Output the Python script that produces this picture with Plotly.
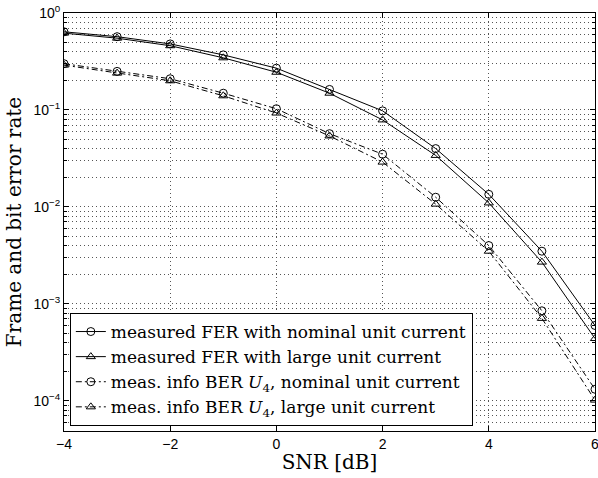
import plotly.graph_objects as go

snr = [-4, -3, -2, -1, 0, 1, 2, 3, 4, 5, 6]
fer_nominal = [0.64, 0.57, 0.48, 0.37, 0.27, 0.163, 0.098, 0.040, 0.0135, 0.0035, 6.0e-4]
fer_large = [0.62, 0.55, 0.46, 0.345, 0.245, 0.149, 0.079, 0.034, 0.011, 0.0027, 4.4e-4]
ber_nominal = [0.30, 0.25, 0.21, 0.149, 0.103, 0.057, 0.035, 0.0126, 0.0040, 8.5e-4, 1.32e-4]
ber_large = [0.29, 0.24, 0.20, 0.140, 0.093, 0.054, 0.029, 0.0107, 0.0035, 7.1e-4, 1.02e-4]

names = [
    "measured FER with nominal unit current",
    "measured FER with large unit current",
    "meas. info BER <i>U</i><sub>4</sub>, nominal unit current",
    "meas. info BER <i>U</i><sub>4</sub>, large unit current",
]
series = [fer_nominal, fer_large, ber_nominal, ber_large]
symbols = ["circle-open", "triangle-up-open", "circle-open", "triangle-up-open"]
dashes = ["solid", "solid", "6px,3px,2px,3px", "6px,3px,2px,3px"]

SERIF = "DejaVu Serif, Liberation Serif, serif"

fig = go.Figure()
for name, ys, sym, dash in zip(names, series, symbols, dashes):
    fig.add_trace(go.Scatter(
        x=snr, y=ys, name=name, mode="lines+markers",
        line=dict(color="black", width=1, dash=dash),
        marker=dict(symbol=sym, size=8, color="black", line=dict(width=1, color="black")),
    ))

ytickvals = [1e-4, 1e-3, 1e-2, 1e-1, 1]
yticktext = ["10<sup>−4</sup>", "10<sup>−3</sup>", "10<sup>−2</sup>", "10<sup>−1</sup>", "10<sup>0</sup>"]
minor_vals = [m * 10 ** e for e in range(-5, 0) for m in range(2, 10)]

GRID = "#555555"
GDASH = "1px,3px"

fig.update_layout(
    width=598, height=478,
    margin=dict(l=64, r=3, t=13, b=47),
    paper_bgcolor="white", plot_bgcolor="white",
    font=dict(family="Liberation Sans, Arial, sans-serif", size=14, color="black"),
    showlegend=True,
    legend=dict(
        x=0.011, y=0.012, xanchor="left", yanchor="bottom",
        bgcolor="white", bordercolor="black", borderwidth=1,
        font=dict(family=SERIF, size=17),
        tracegroupgap=0, itemwidth=30,
    ),
)
fig.update_xaxes(
    range=[-4, 6], tickvals=[-4, -2, 0, 2, 4, 6],
    ticks="inside", ticklen=5, tickcolor="black",
    showline=True, linecolor="black", linewidth=1, mirror="ticks",
    showgrid=True, gridcolor=GRID, griddash=GDASH, gridwidth=1,
    zeroline=False, automargin=False, ticklabeloverflow="allow",
    title=dict(text="SNR [dB]", font=dict(family=SERIF, size=20), standoff=4),
)
fig.update_yaxes(
    type="log", range=[-4.31, 0],
    tickvals=ytickvals, ticktext=yticktext,
    ticks="inside", ticklen=5, tickcolor="black",
    showline=True, linecolor="black", linewidth=1, mirror="ticks",
    showgrid=True, gridcolor=GRID, griddash=GDASH, gridwidth=1,
    zeroline=False, automargin=False, ticklabeloverflow="allow",
    minor=dict(tickvals=minor_vals, ticks="inside", ticklen=3, tickcolor="black",
               showgrid=True, gridcolor=GRID, griddash=GDASH, gridwidth=1),
    title=dict(text="Frame and bit error rate", font=dict(family=SERIF, size=20), standoff=6),
)

fig.write_html("out.html", config={"displayModeBar": False},
               post_script="document.body.style.margin='0';")
